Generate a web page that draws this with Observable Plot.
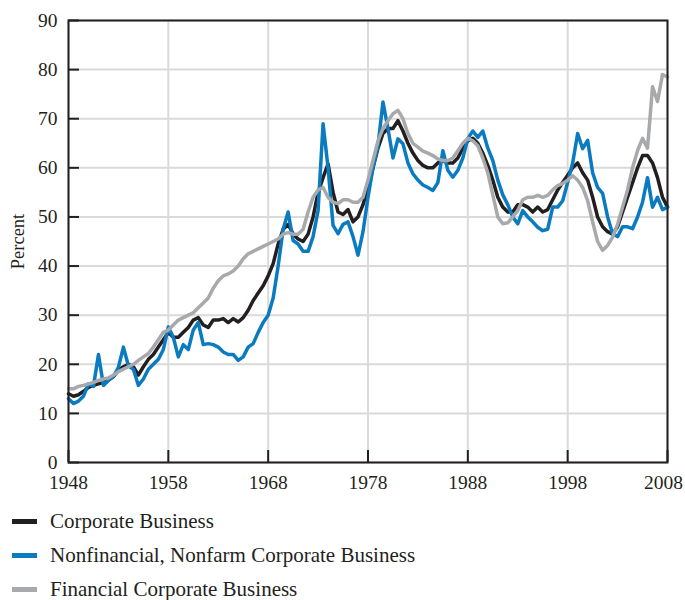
<!DOCTYPE html>
<html>
<head>
<meta charset="utf-8">
<script src="https://cdn.jsdelivr.net/npm/d3@7"></script>
<script src="https://cdn.jsdelivr.net/npm/@observablehq/plot@0.6"></script>
<style>
  body { margin: 0; background: white; }
  #legend { font-family: "Liberation Serif", serif; font-size: 21px; color: #231f20; padding-top: 4px; }
  .row { height: 34px; display: flex; align-items: center; }
  .sw { display: inline-block; width: 25px; height: 5px; margin-left: 12px; margin-right: 13px; }
</style>
</head>
<body>
<div id="chart"></div>
<div id="legend"></div>
<script>
// Time axis: half-year steps 1948 to 2008
const years = d3.range(0, 121).map(i => 1948 + i * 0.5);

const seriesNames = ["Corporate Business", "Nonfinancial, Nonfarm Corporate Business", "Financial Corporate Business"];
const seriesColors = ["#231f20", "#0a7bc1", "#a7a9ac"];

const corporate = [
  14, 13.5, 13.8, 14.5, 15.3, 15.7, 16, 16.3, 16.8, 17.5, 18.8, 19.5, 20, 19.5, 17.8, 19.5, 21, 22, 23.5, 25,
  26.5, 25.5, 25.5, 26.5, 27.5, 29, 29.5, 28, 27.5, 29, 29, 29.3, 28.5, 29.3, 28.6, 29.5, 31, 33, 34.5, 36,
  38, 40.5, 44.5, 47.5, 48.5, 46.5, 45.5, 45, 46.5, 50, 55, 58, 60.8, 55, 51, 50.5, 51.5, 49, 50, 52.5,
  56, 60, 64, 67, 68, 68, 69.6, 67.5, 65, 63, 61.5, 60.5, 60, 60, 61, 61.5, 61, 61, 62, 64,
  65.5, 66, 65, 63, 60.5, 57.5, 54, 52, 51, 51, 52.5, 52.5, 52, 51, 52, 51, 51.5, 53.5, 55.5, 57,
  58.5, 60, 61, 59, 57.5, 54, 50, 48, 47, 46.5, 48, 51, 54, 57, 60, 62.5, 62.5, 61, 58, 54, 52
];
const nonfinancial = [
  13, 12, 12.5, 13.5, 16, 15.5, 22, 15.7, 16.7, 17.5, 19.4, 23.5, 19.7, 19, 15.7, 17, 19, 20, 21, 23,
  27.6, 25.5, 21.5, 24, 23, 27, 28.5, 24, 24.2, 24, 23.5, 22.5, 22, 22, 20.8, 21.5, 23.5, 24.2, 26.5, 28.5,
  30, 33.5, 40, 47.5, 51, 45.2, 44.5, 43, 43, 46, 51.3, 69, 60, 48.3, 46.6, 48.5, 49, 46, 42.2, 47,
  54, 60, 64.5, 73.4, 68, 62, 65.9, 64.9, 61, 58.8, 57.5, 56.5, 56, 55.4, 57, 63.5, 59.5, 58.1, 59.5, 62,
  66, 67.5, 66.2, 67.5, 64, 61.5, 57.5, 54.5, 52.5, 50, 48.6, 51.3, 50, 49, 47.9, 47.2, 47.5, 52, 52, 53.3,
  57, 61, 67, 63.9, 65.6, 59, 56, 54.8, 50, 46.6, 46, 48, 48, 47.6, 50, 53, 58, 52, 54, 51.5, 52
];
const financial = [
  15, 15, 15.5, 15.7, 16, 16.3, 16.7, 17, 17.2, 17.8, 18.5, 19, 19.5, 20, 20.8, 21.5, 22.2, 23.5, 25, 26.5,
  27, 28, 29, 29.5, 30, 30.5, 31.5, 32.5, 33.5, 35.5, 37, 38, 38.4, 39, 40, 41.5, 42.5, 43, 43.5, 44,
  44.5, 45, 45.5, 46.5, 46.8, 46.5, 46.5, 47.5, 51, 54, 55.5, 56, 54, 53, 52.7, 53.5, 53.5, 53, 53, 54,
  57.5, 61.5, 65.5, 68, 69.6, 71, 71.7, 70, 67, 65, 64.2, 63.4, 63, 62.5, 61.8, 61.5, 61.5, 62, 63.5, 65,
  66, 65.5, 64.5, 62, 59, 54.5, 50, 48.6, 48.8, 50, 51.3, 53.5, 54, 54, 54.4, 54, 54.4, 55.5, 56.4, 56.8,
  57.5, 58.4, 57.5, 56, 53.3, 49, 45, 43.2, 44.2, 45.9, 48.5, 52, 55.5, 60, 63.5, 66, 64, 76.5, 73.5, 79, 78.5
];

const xTicks = [1948, 1958, 1968, 1978, 1988, 1998, 2008];
const yTicks = [0, 10, 20, 30, 40, 50, 60, 70, 80, 90];
const yLabel = "Percent";

const allSeries = [corporate, nonfinancial, financial];
const tables = allSeries.map(vals => years.map((t, i) => ({t, v: vals[i]})));

const ink = "#231f20";
const lastX = xTicks[xTicks.length - 1];
const chart = Plot.plot({
  width: 685,
  height: 500,
  marginLeft: 68,
  marginRight: 18,
  marginTop: 20,
  marginBottom: 38,
  style: {fontFamily: "'Liberation Serif', serif", fontSize: "19.5px", color: ink, background: "white"},
  x: {domain: [1948, 2008]},
  y: {domain: [0, 90]},
  marks: [
    Plot.gridX(xTicks, {stroke: "#dadada", strokeOpacity: 1, strokeWidth: 2}),
    Plot.gridY(yTicks, {stroke: "#dadada", strokeOpacity: 1, strokeWidth: 2}),
    Plot.axisX(xTicks.slice(0, -1), {tickSize: 0, tickPadding: 13, label: null, tickFormat: d => String(d), fontSize: 19.5}),
    Plot.axisX([lastX], {tickSize: 0, tickPadding: 13, label: null, tickFormat: d => String(d), fontSize: 19.5, dx: -4}),
    Plot.axisY(yTicks, {tickSize: 0, tickPadding: 11, label: null, fontSize: 19.5}),
    Plot.ruleX(xTicks, {insetTop: 430, stroke: ink, strokeWidth: 2}),
    Plot.ruleY(yTicks, {insetRight: 588, stroke: ink, strokeWidth: 2}),
    ...tables.map((tb, k) => Plot.line(tb, {x: "t", y: "v", stroke: seriesColors[k], strokeWidth: 3.5, strokeLinejoin: "round"})),
    Plot.frame({stroke: ink, strokeWidth: 2}),
    Plot.text([yLabel], {text: d => d, frameAnchor: "left", textAnchor: "middle", rotate: -90, dx: -50, fontSize: 18.5, fill: ink})
  ]
});
document.getElementById("chart").appendChild(chart);

const legend = document.getElementById("legend");
seriesNames.forEach((name, k) => {
  const row = document.createElement("div");
  row.className = "row";
  const sw = document.createElement("span");
  sw.className = "sw";
  sw.style.background = seriesColors[k];
  row.appendChild(sw);
  row.appendChild(document.createTextNode(name));
  legend.appendChild(row);
});
</script>
</body>
</html>
